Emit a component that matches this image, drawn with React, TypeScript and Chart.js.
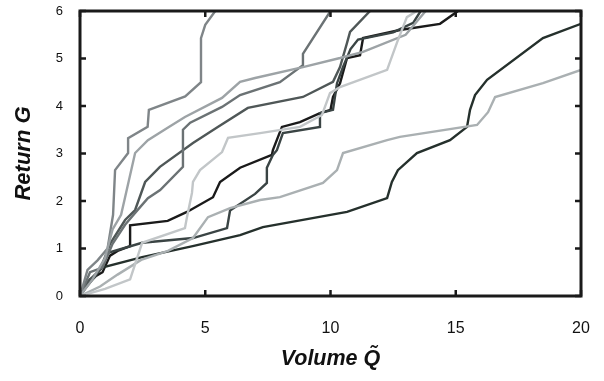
import React, { useEffect, useRef } from "react";
import { Chart, registerables } from "chart.js";

Chart.register(...registerables);

type P = [number, number];

const xTicks = [0, 5, 10, 15, 20];
const yTicks = [0, 1, 2, 3, 4, 5, 6];

const series1: P[] = [[0,0],[0.3,0.55],[0.7,0.75],[1.1,1.0],[1.32,1.71],[1.4,2.65],[1.92,3.01],[1.92,3.32],[2.7,3.56],[2.75,3.92],[4.2,4.2],[4.83,4.5],[4.83,5.43],[5.0,5.71],[5.4,6.0]];
const series2: P[] = [[0,0],[0.5,0.35],[1.0,0.8],[1.3,1.4],[1.64,1.71],[1.8,2.08],[2.2,3.01],[2.71,3.28],[3.5,3.54],[4.19,3.77],[5.67,4.17],[6.39,4.51],[6.99,4.59],[8.9,4.82],[10.38,5.01],[11.3,5.14],[13.0,5.5],[13.8,6.0]];
const series3: P[] = [[0,0],[0.4,0.5],[0.9,0.6],[1.3,1.1],[1.8,1.5],[2.2,1.75],[2.71,2.06],[3.2,2.23],[4.11,2.72],[4.11,3.5],[4.4,3.65],[5.67,3.98],[6.39,4.23],[7.98,4.5],[8.9,4.86],[8.9,5.1],[10.0,6.0]];
const series4: P[] = [[0,0],[0.3,0.3],[0.8,0.55],[1.2,1.1],[1.8,1.6],[2.2,1.81],[2.6,2.4],[3.19,2.72],[4.51,3.22],[5.5,3.56],[6.7,3.96],[8.9,4.19],[10.1,4.51],[10.38,4.82],[10.66,5.33],[10.78,5.56],[11.58,6.0]];
const series5: P[] = [[0,0],[0.4,0.35],[0.9,0.5],[1.2,0.85],[1.5,0.95],[2.0,1.05],[2.0,1.49],[3.5,1.58],[4.27,1.77],[5.31,2.08],[5.59,2.4],[6.39,2.7],[7.66,2.97],[7.7,3.07],[8.06,3.56],[8.78,3.66],[9.58,3.85],[10.0,3.92],[10.1,4.19],[10.38,4.48],[10.66,5.01],[11.18,5.07],[11.3,5.43],[12.77,5.6],[14.37,5.73],[15.09,6.0]];
const series6: P[] = [[0,0],[0.3,0.25],[0.6,0.4],[1.12,0.91],[2.48,1.12],[4.51,1.22],[5.87,1.43],[5.99,1.8],[6.99,2.15],[7.46,2.38],[7.46,2.7],[7.7,2.97],[7.86,3.07],[8.1,3.43],[9.58,3.56],[9.58,3.85],[10.1,3.92],[10.26,4.48],[10.5,4.82],[10.8,5.2],[11.1,5.4],[12.5,5.55],[13.3,5.75],[13.6,6.0]];
const series7: P[] = [[0,0],[0.2,0.15],[0.88,0.6],[2.48,0.82],[4.5,1.05],[6.39,1.28],[7.3,1.45],[10.66,1.77],[12.26,2.06],[12.45,2.4],[12.69,2.65],[13.45,3.01],[14.77,3.28],[15.45,3.56],[15.57,3.92],[15.77,4.23],[16.25,4.55],[18.48,5.43],[20,5.73]];
const series8: P[] = [[0,0],[0.8,0.2],[1.5,0.45],[2.44,0.76],[3.51,0.95],[4.51,1.22],[5.11,1.66],[5.99,1.85],[7.19,2.02],[7.98,2.08],[9.7,2.38],[10.26,2.65],[10.5,3.01],[12.26,3.28],[12.77,3.35],[15.85,3.6],[16.29,3.87],[16.57,4.19],[18.48,4.48],[20,4.76]];
const series9: P[] = [[0,0],[1.0,0.15],[2.0,0.35],[2.48,1.12],[4.19,1.43],[4.27,1.66],[4.47,2.17],[4.51,2.4],[4.79,2.65],[5.67,3.03],[5.91,3.33],[7.19,3.43],[8.78,3.56],[9.66,3.81],[9.98,4.27],[10.38,4.4],[12.26,4.76],[12.65,5.33],[13.05,5.87],[13.45,6.0]];

const allSeries: P[][] = [series9, series8, series2, series1, series3, series4, series6, series7, series5];
const colors = ["#c2c6c8", "#aab0b2", "#9da3a6", "#7f8588", "#6b7274", "#4f5757", "#3a4444", "#25302c", "#1a1a1a"];

const frame = {
  id: "frame",
  afterDatasetsDraw(chart: any) {
    const { ctx, chartArea: a, scales } = chart;
    ctx.save();
    ctx.strokeStyle = "#1a1a1a";
    ctx.lineWidth = 3;
    ctx.strokeRect(a.left, a.top, a.right - a.left, a.bottom - a.top);
    ctx.lineWidth = 2.5;
    const tl = 6;
    ctx.beginPath();
    for (const v of xTicks) {
      const px = scales.x.getPixelForValue(v);
      ctx.moveTo(px, a.bottom); ctx.lineTo(px, a.bottom - tl);
      ctx.moveTo(px, a.top); ctx.lineTo(px, a.top + tl);
    }
    for (const v of yTicks) {
      const py = scales.y.getPixelForValue(v);
      ctx.moveTo(a.left, py); ctx.lineTo(a.left + tl, py);
      ctx.moveTo(a.right, py); ctx.lineTo(a.right - tl, py);
    }
    ctx.stroke();
    ctx.restore();
  },
};

export default function App() {
  const ref = useRef<HTMLCanvasElement>(null);
  useEffect(() => {
    const chart = new Chart(ref.current!, {
      type: "line",
      data: {
        datasets: allSeries.map((s, i) => ({
          data: s.map(([x, y]) => ({ x, y })),
          borderColor: colors[i],
          borderWidth: 2.4,
          pointRadius: 0,
          fill: false,
          tension: 0,
        })),
      },
      options: {
        responsive: false,
        animation: false,
        plugins: { legend: { display: false }, tooltip: { enabled: false } },
        layout: { padding: { top: 11, right: 23, left: 0, bottom: 0 } },
        scales: {
          x: {
            type: "linear",
            min: 0,
            max: 20,
            grid: { display: false },
            border: { display: false },
            afterBuildTicks: (s: any) => { s.ticks = xTicks.map((v) => ({ value: v })); },
            afterFit: (s: any) => { s.height = 85; s.paddingLeft = 0; s.paddingRight = 0; },
            ticks: { color: "#111", padding: 15, font: { family: "'Liberation Sans', Arial, sans-serif", size: 16 } },
            title: {
              display: true,
              text: "Volume Q\u0303",
              color: "#111",
              padding: { top: 0, bottom: 9 },
              font: { family: "'Liberation Sans', Arial, sans-serif", size: 21.5, weight: "bold", style: "italic" },
            },
          },
          y: {
            type: "linear",
            min: 0,
            max: 6,
            grid: { display: false },
            border: { display: false },
            afterBuildTicks: (s: any) => { s.ticks = yTicks.map((v) => ({ value: v })); },
            afterFit: (s: any) => { s.width = 80; s.paddingTop = 0; s.paddingBottom = 0; },
            ticks: { color: "#111", padding: 9, font: { family: "'Liberation Sans', Arial, sans-serif", size: 13 } },
            title: {
              display: true,
              text: "Return G",
              color: "#111",
              padding: { top: 11, bottom: 0 },
              font: { family: "'Liberation Sans', Arial, sans-serif", size: 22, weight: "bold", style: "italic" },
            },
          },
        },
      },
      plugins: [frame],
    });
    return () => chart.destroy();
  }, []);
  return (
    <div style={{ position: "fixed", left: 0, top: 0, width: 604, height: 381, background: "#fff" }}>
      <canvas ref={ref} width={604} height={381} />
    </div>
  );
}
